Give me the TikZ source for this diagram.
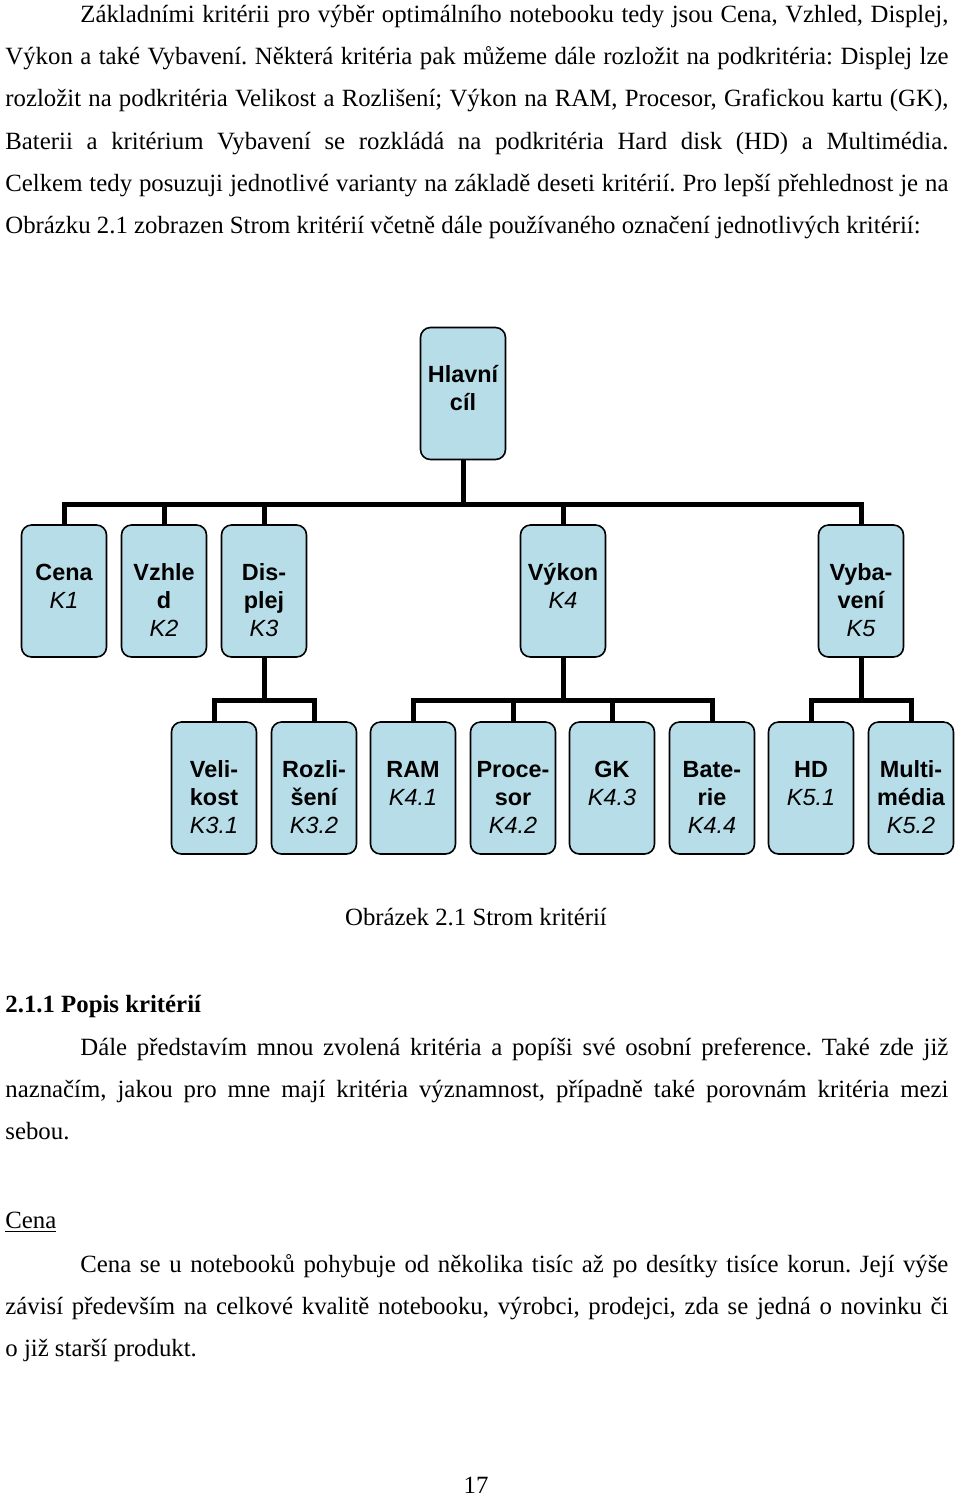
\documentclass[tikz,border=0pt]{standalone}
\usepackage{fontspec}
\setmainfont{Liberation Serif}
\setsansfont{Liberation Sans}
\hyphenpenalty=10000
\exhyphenpenalty=10000
\frenchspacing

\definecolor{boxblue}{HTML}{B7DEE8}
\newcommand{\critbox}[2]{\parbox[c][66pt][t]{42.5pt}{\centering\vspace*{17.7pt}\strut#1\\{\mdseries\itshape #2}}}

\tikzset{
  crit/.style={draw=black, line width=0.8pt, fill=boxblue, rounded corners=5pt, inner sep=0pt,
    font=\sffamily\bfseries\fontsize{11.7}{14}\selectfont},
  conn/.style={line width=2.5pt},
  body/.style={anchor=base west, inner sep=0pt, text width=471.5pt, align=justify,
    font=\fontsize{12.4}{21.05}\selectfont},
  line/.style={inner sep=0pt, font=\fontsize{12.4}{15}\selectfont}
}

\begin{document}
\begin{tikzpicture}[x=0.5pt, y=-0.5pt]
   \useasboundingbox (0,0) rectangle (960,1496);

   \node [body] (uvod) at (5,22.7) {\hspace*{37.5pt}Základními kritérii pro výběr optimálního notebooku tedy jsou Cena, Vzhled, Displej,\linebreak
   Výkon a také Vybavení. Některá kritéria pak můžeme dále rozložit na podkritéria: Displej lze\linebreak
   rozložit na podkritéria Velikost a Rozlišení; Výkon na RAM, Procesor, Grafickou kartu (GK),\linebreak
   Baterii a kritérium Vybavení se rozkládá na podkritéria Hard disk (HD) a Multimédia.\linebreak
   Celkem tedy posuzuji jednotlivé varianty na základě deseti kritérií. Pro lepší přehlednost je na\linebreak
   Obrázku 2.1 zobrazen Strom kritérií včetně dále používaného označení jednotlivých kritérií:};

   % strom kriterii
   \node [crit] (cil) at (463,393.5) {\critbox{Hlavní\\cíl}{}};

   \node [crit] (cena) at (64,591) {\critbox{Cena}{K1}};
   \node [crit] (vzhled) at (164,591) {\critbox{Vzhle\\d}{K2}};
   \node [crit] (displej) at (264,591) {\critbox{Dis-\\plej}{K3}};
   \node [crit] (vykon) at (563,591) {\critbox{Výkon}{K4}};
   \node [crit] (vybaveni) at (861,591) {\critbox{Vyba-\\vení}{K5}};

   \node [crit] (velikost) at (214,788) {\critbox{Veli-\\kost}{K3.1}};
   \node [crit] (rozliseni) at (314,788) {\critbox{Rozli-\\šení}{K3.2}};
   \node [crit] (ram) at (413,788) {\critbox{RAM}{K4.1}};
   \node [crit] (procesor) at (513,788) {\critbox{Proce-\\sor}{K4.2}};
   \node [crit] (gk) at (612,788) {\critbox{GK}{K4.3}};
   \node [crit] (baterie) at (712,788) {\critbox{Bate-\\rie}{K4.4}};
   \node [crit] (hd) at (811,788) {\critbox{HD}{K5.1}};
   \node [crit] (multimedia) at (911,788) {\critbox{Multi-\\média}{K5.2}};

   \foreach \k in {cena,vzhled,displej,vykon,vybaveni}
      \draw [conn] (cil.south) -- ++(0,44) -| (\k.north);
   \foreach \k in {velikost,rozliseni}
      \draw [conn] (displej.south) -- ++(0,43) -| (\k.north);
   \foreach \k in {ram,procesor,gk,baterie}
      \draw [conn] (vykon.south) -- ++(0,43) -| (\k.north);
   \foreach \k in {hd,multimedia}
      \draw [conn] (vybaveni.south) -- ++(0,43) -| (\k.north);

   \node [line, anchor=base] (popisek) at (476,925) {Obrázek 2.1 Strom kritérií};

   \node [line, anchor=base west, font=\bfseries\fontsize{12.4}{15}\selectfont] (nadpis) at (5,1012) {2.1.1 Popis kritérií};
   \node [body] (popis) at (5,1055) {\hspace*{37.5pt}Dále představím mnou zvolená kritéria a popíši své osobní preference. Také zde již\linebreak
   naznačím, jakou pro mne mají kritéria významnost, případně také porovnám kritéria mezi\linebreak
   sebou.};

   \node [line, anchor=base west] (cena-nadpis) at (5,1228) {\underline{Cena}};
   \node [body] (cena-text) at (5,1272) {\hspace*{37.5pt}Cena se u notebooků pohybuje od několika tisíc až po desítky tisíce korun. Její výše\linebreak
   závisí především na celkové kvalitě notebooku, výrobci, prodejci, zda se jedná o novinku či\linebreak
   o již starší produkt.};

   \node [line, anchor=base] (strana) at (476,1493) {17};
\end{tikzpicture}
\end{document}
